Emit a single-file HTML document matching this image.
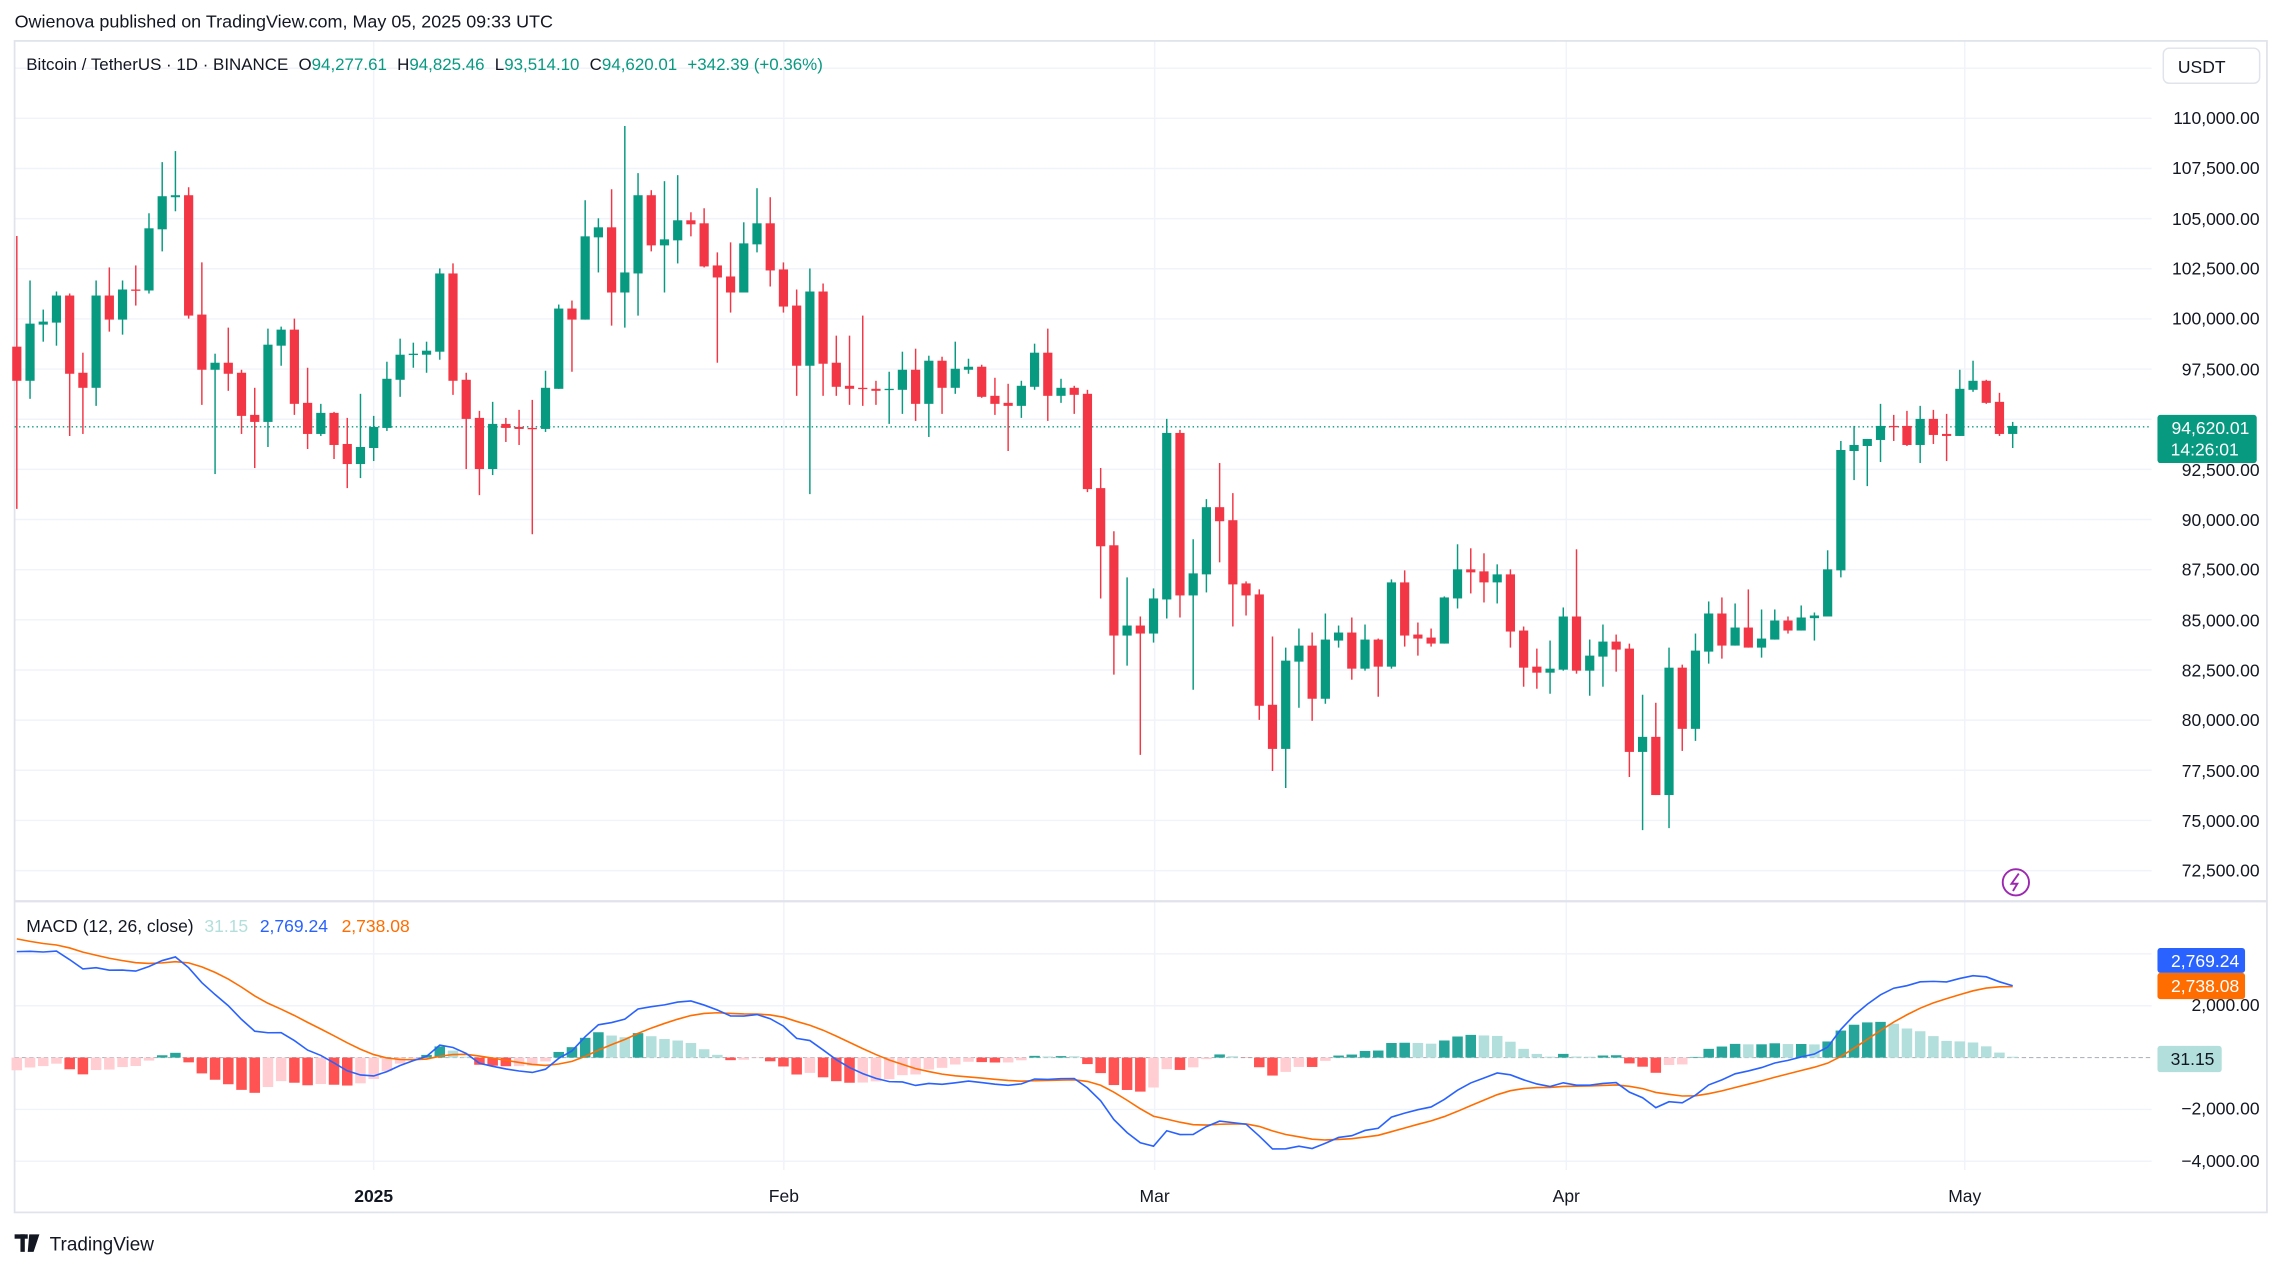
<!DOCTYPE html>
<html><head><meta charset="utf-8"><style>
html,body{margin:0;padding:0;background:#fff;}
svg{display:block;}
text{font-family:"Liberation Sans",sans-serif;}
</style></head><body>
<svg id="s" width="2283" height="1265" viewBox="0 0 1564 866" preserveAspectRatio="none" xmlns="http://www.w3.org/2000/svg">
<rect x="0" y="0" width="1564" height="866" fill="#fff"/>
<g id="grid"></g>
<rect x="10" y="28" width="1543" height="802" fill="none" stroke="#e0e3eb" stroke-width="1.2"/>
<line x1="10" y1="617" x2="1553" y2="617" stroke="#e0e3eb" stroke-width="1.5"/>
<line x1="10" y1="724" x2="1474" y2="724" stroke="#b2b5be" stroke-width="0.8" stroke-dasharray="3,2"/>
<line x1="10" y1="292.2" x2="1474" y2="292.2" stroke="#089981" stroke-width="0.9" stroke-dasharray="1,2"/>
<g id="hist"></g>
<g id="candles"></g>
<g id="lines"></g>
<text x="10" y="19" font-size="12.3" fill="#131722">Owienova published on TradingView.com, May 05, 2025 09:33 UTC</text>
<text y="48" font-size="11.6" fill="#131722"><tspan x="18">Bitcoin / TetherUS · 1D · BINANCE</tspan><tspan dx="7">O</tspan><tspan fill="#089981">94,277.61</tspan><tspan dx="7">H</tspan><tspan fill="#089981">94,825.46</tspan><tspan dx="7">L</tspan><tspan fill="#089981">93,514.10</tspan><tspan dx="7">C</tspan><tspan fill="#089981">94,620.01</tspan><tspan dx="7" fill="#089981">+342.39 (+0.36%)</tspan></text>
<rect x="1482" y="33" width="66" height="24" rx="4" fill="#fff" stroke="#e0e3eb"/>
<text x="1492" y="50" font-size="12" fill="#131722">USDT</text>
<g font-size="12" fill="#131722" text-anchor="end">
<text x="1548" y="85">110,000.00</text><text x="1548" y="119">107,500.00</text><text x="1548" y="154">105,000.00</text>
<text x="1548" y="188">102,500.00</text><text x="1548" y="222">100,000.00</text><text x="1548" y="257">97,500.00</text>
<text x="1548" y="326">92,500.00</text><text x="1548" y="360">90,000.00</text><text x="1548" y="394">87,500.00</text>
<text x="1548" y="429">85,000.00</text><text x="1548" y="463">82,500.00</text><text x="1548" y="497">80,000.00</text>
<text x="1548" y="532">77,500.00</text><text x="1548" y="566">75,000.00</text><text x="1548" y="600">72,500.00</text>
<text x="1548" y="692">2,000.00</text><text x="1548" y="763">−2,000.00</text><text x="1548" y="799">−4,000.00</text>
</g>
<rect x="1478" y="284" width="68" height="33" rx="2" fill="#089981"/>
<text x="1541" y="297" font-size="12" fill="#fff" text-anchor="end">94,620.01</text>
<text x="1487" y="312" font-size="12" fill="#fff">14:26:01</text>
<rect x="1478" y="649" width="60" height="17" rx="2" fill="#2962ff"/>
<text x="1534" y="662" font-size="12" fill="#fff" text-anchor="end">2,769.24</text>
<rect x="1478" y="666" width="60" height="18" rx="2" fill="#ff6d00"/>
<text x="1534" y="679" font-size="12" fill="#fff" text-anchor="end">2,738.08</text>
<rect x="1478" y="716" width="44" height="18" rx="2" fill="#b2dfdb"/>
<text x="1487" y="729" font-size="12" fill="#131722">31.15</text>
<text y="638" font-size="12" fill="#131722"><tspan x="18">MACD (12, 26, close)</tspan><tspan x="140" fill="#b2dfdb">31.15</tspan><tspan x="178" fill="#2962ff">2,769.24</tspan><tspan x="234" fill="#ff6d00">2,738.08</tspan></text>
<g font-size="12" fill="#131722" text-anchor="middle">
<text x="256" y="823" font-weight="bold">2025</text><text x="537" y="823">Feb</text><text x="791" y="823">Mar</text><text x="1073" y="823">Apr</text><text x="1346" y="823">May</text>
</g>
<circle cx="1381" cy="604" r="9" fill="none" stroke="#9c27b0" stroke-width="1.3"/>
<path d="M1383 598 L1378 605 L1382 605 L1379 610" fill="none" stroke="#9c27b0" stroke-width="1.3"/>
<rect x="10" y="845" width="9" height="3" fill="#131722"/><rect x="14" y="845" width="3" height="12" fill="#131722"/><path d="M20 845 L27 845 L23 857 L19 857 Z" fill="#131722"/>
<text x="34" y="856" font-size="13" fill="#131722">TradingView</text>
</svg>
<script>
const NS="http://www.w3.org/2000/svg";
function el(t,a,p){const e=document.createElementNS(NS,t);for(const k in a)e.setAttribute(k,a[k]);p.appendChild(e);return e;}
const grid=document.getElementById('grid');
for(let p=72500;p<=112500;p+=2500){const y=81+(110000-p)*0.013733;el('line',{x1:10,x2:1474,y1:y,y2:y,stroke:'#f0f3fa','stroke-width':1},grid);}
[4000,2000,-2000,-4000].forEach(v=>{const y=724-v*35.5/2000;el('line',{x1:10,x2:1474,y1:y,y2:y,stroke:'#f0f3fa','stroke-width':1},grid);});
[256,537,791,1073,1346].forEach(x=>el('line',{x1:x,x2:x,y1:28,y2:801,stroke:'#f0f3fa','stroke-width':1},grid));
const A=`r 741 843 410 1226|g 672 843 543 897|g 666 675 630 726|g 588 669 576 738|r 588 822 582 1008|r 819 864 759 1002|g 588 864 543 918|r 588 660 504 696|g 570 660 543 705|r 570 573 498 618|g 387 573 342 582|g 291 390 189 456|g 288 294 156 336|r 288 648 264 657|r 645 810 489 915|g 789 810 762 1122|r 789 822 684 873|r 819 948 810 1002|r 945 966 864 1104|g 735 966 687 1041|g 690 738 681 798|r 690 912 657 945|r 909 1002 804 1047|g 939 1002 912 1008|r 939 1035 936 1077|r 1032 1092 954 1164|g 1041 1092 882 1134|g 981 1044 948 1083|g 837 984 786 993|g 765 840 717 891|g 762 765 729 804|g 753 765 726 819|g 522 756 507 780|r 522 843 492 885|r 840 957 819 1107|r 954 1107 933 1185|g 972 1107 906 1125|r 972 984 954 1026|r 981 987 930 1035|r 984 987 900 1302|g 864 987 813 996|g 627 867 615 867|r 627 660 603 816|g 411 660 303 660|g 384 414 357 519|r 384 579 270 678|g 519 579 81 684|g 288 522 222 648|r 288 438 273 456|g 420 438 246 579|g 363 423 228 492|r 363 375 339 411|r 372 501 327 504|r 498 534 459 789|r 531 579 429 639|g 432 579 369 579|g 372 435 267 459|r 372 513 294 561|r 510 621 489 639|r 618 798 570 888|g 576 798 507 1182|r 576 792 552 888|r 789 861 708 888|r 858 867 708 915|r 864 867 648 918|r 867 873 843 915|g 867 870 816 972|g 810 870 756 942|r 810 912 747 963|g 783 912 768 1011|r 783 864 771 942|g 807 864 726 882|g 801 810 777 822|r 801 891 795 894|r 888 912 834 945|r 909 918 852 1053|g 858 918 843 954|g 759 861 732 870|r 759 888 687 963|g 864 888 837 909|r 864 885 858 942`;
const B=`r 42 327 30 336|r 324 498 264 654|r 495 765 453 882|g 735 765 591 855|r 735 759 708 1122|g 654 759 624 786|g 159 657 117 714|r 159 645 150 711|g 579 645 477 927|g 381 582 357 636|r 381 423 249 546|r 420 612 339 738|r 609 645 603 705|r 642 975 627 1017|r 972 1104 768 1170|g 840 1104 801 1221|g 795 843 744 981|r 795 954 756 1020|g 777 954 699 969|g 756 780 735 801|r 756 864 711 897|g 777 864 732 870|r 777 858 774 948|g 606 858 597 864|r 606 765 570 798|r 762 774 726 825|r 771 789 744 798|g 651 789 648 789|g 567 654 492 684|r 567 576 504 639|r 573 606 519 666|g 582 606 552 669|r 582 753 567 801|r 750 861 738 918|r 858 876 804 924|g 864 876 780 939|g 708 867 681 870|r 708 870 507 879|g 825 870 777 945|g 783 828 732 918|r 783 807 762 873`;
const C=`r 924 1233 909 1308|g 1188 1233 1062 1467|r 1188 1362 1086 1362|g 981 1362 921 1461|r 981 1164 972 1230|g 930 1164 879 1200|g 819 933 783 969|r 819 915 771 954|g 861 915 789 915|r 861 921 747 921|g 894 921 807 951|g 840 897 807 897|r 840 870 828 879|g 831 870 795 870|g 825 833 816 900|g 687 828 630 828|g 330 690 303 711|g 315 333 258 420|g 297 318 297 438|g 258 300 192 366|r 258 261 225 303|r 258 315 213 318|g 237 315 198 369|r 237 285 210 312|r 282 288 222 363|g 147 288 90 288|g 123 150 63 156|r 123 189 120 192|r 186 282 159 288|g 258 282 246 324`;
let data=[];
[[A,0],[B,840],[C,720]].forEach(([s,o])=>s.split('|').forEach(r=>{const p=r.trim().split(' ');data.push({c:p[0],bt:+p[1]+o,bb:+p[2]+o,wt:+p[3]+o,wb:+p[4]+o});}));
const zy=z=>81+(z-58)*0.22889, zp=z=>110000-(z-58)*16.6667;
const X=i=>256+9.055*(i-27);
const cg=document.getElementById('candles');
const closes=[];
data.forEach((d,i)=>{const col=d.c=='g'?'#089981':'#f23645';const x=X(i);
 el('line',{x1:x,x2:x,y1:zy(d.wt),y2:zy(d.wb),stroke:col,'stroke-width':1},cg);
 const y1=zy(d.bt),y2=zy(d.bb);el('rect',{x:x-3.15,y:y1,width:6.3,height:Math.max(y2-y1,0.9),fill:col},cg);
 closes.push(zp(d.c=='g'?d.bt:d.bb));});
let e12=95600,e26=91300,sig=4700;const k12=2/13,k26=2/27,k9=2/10;
const M=[],S=[],H=[];
closes.forEach(c=>{e12=c*k12+e12*(1-k12);e26=c*k26+e26*(1-k26);const m=e12-e26;sig=m*k9+sig*(1-k9);M.push(m);S.push(sig);H.push(m-sig);});
const my=v=>724-v*35.5/2000;
const hg=document.getElementById('hist');
H.forEach((h,i)=>{const prev=i?H[i-1]:h;let col;
 if(h>=0)col=h>=prev?'#26a69a':'#b2dfdb';else col=h<prev?'#ff5252':'#ffcdd2';
 const y=my(h);el('rect',{x:X(i)-3.6,y:Math.min(y,724),width:7.2,height:Math.abs(y-724),fill:col},hg);});
const lg=document.getElementById('lines');
el('polyline',{points:S.map((v,i)=>X(i)+','+my(v)).join(' '),fill:'none',stroke:'#ff6d00','stroke-width':1.1},lg);
el('polyline',{points:M.map((v,i)=>X(i)+','+my(v)).join(' '),fill:'none',stroke:'#2962ff','stroke-width':1.1},lg);
</script>
</body></html>
